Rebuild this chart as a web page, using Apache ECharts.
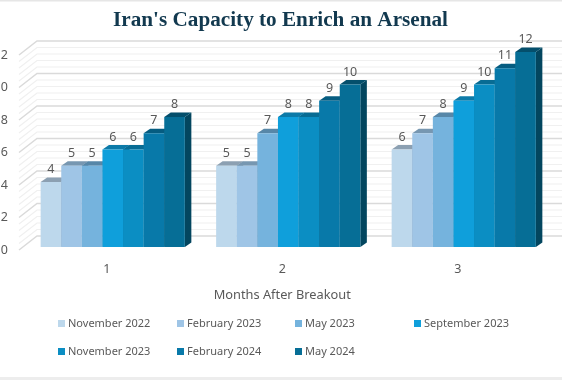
<!DOCTYPE html>
<html>
<head>
<meta charset="utf-8">
<style>
  html, body { margin: 0; padding: 0; background: #fff; }
  #chart { width: 562px; height: 380px; }
</style>
<script src="https://cdn.jsdelivr.net/npm/echarts@6/dist/echarts.min.js"></script>
</head>
<body>
<div id="chart"></div>
<script>
const months = ['1', '2', '3'];
const seriesNames = ['November 2022', 'February 2023', 'May 2023', 'September 2023', 'November 2023', 'February 2024', 'May 2024'];
const nov2022 = [4, 5, 6];
const feb2023 = [5, 5, 7];
const may2023 = [5, 7, 8];
const sep2023 = [6, 8, 9];
const nov2023 = [6, 8, 10];
const feb2024 = [7, 9, 11];
const may2024 = [8, 10, 12];
const seriesValues = [nov2022, feb2023, may2023, sep2023, nov2023, feb2024, may2024];

const frontColors = ['#BDD8EC', '#9FC5E6', '#75B3DD', '#0F9FDB', '#0B8EC3', '#0879A9', '#066E96'];
const topColors = ['#8CA0B2', '#7797B1', '#5787A8', '#0C7AA8', '#086C94', '#055C80', '#044F6C'];
const sideColors = ['#7C95A8', '#6A8AA5', '#4C7C9C', '#096E98', '#066286', '#045172', '#03465F'];

const chart = echarts.init(document.getElementById('chart'));

// 3D look: depth of the back wall and of each bar, in pixels
const wallDx = 18, wallDy = -14;
const barDx = 6.5, barDy = -4.5;
const baseDx = 6, baseDy = -3;
const barWidth = 20.6;

const wallLevels = [];
for (let i = 0; i <= 30; i++) wallLevels.push(i * 0.4);

function renderWall(params, api) {
  const level = api.value(1);
  const p = api.coord([0, level]);
  const x0 = params.coordSys.x;
  const x1 = params.coordSys.x + params.coordSys.width + wallDx + 4;
  const major = Math.abs(level / 2 - Math.round(level / 2)) < 0.01;
  return {
    type: 'polyline',
    silent: true,
    shape: { points: [[x0, p[1]], [x0 + wallDx, p[1] + wallDy], [x1, p[1] + wallDy]] },
    style: { fill: 'none', stroke: major ? '#DADADA' : '#F0F0F0', lineWidth: major ? 1.5 : 1.2 }
  };
}

function renderBar(seriesIndex) {
  return function (params, api) {
    const center = api.coord([api.value(0), 0]);
    const top = api.coord([api.value(0), api.value(1)]);
    const x = center[0] + baseDx + (seriesIndex - 3.5) * barWidth;
    const y0 = center[1] + baseDy;
    const y1 = top[1] + baseDy;
    const w = barWidth;
    return {
      type: 'group',
      children: [
        {
          type: 'polygon',
          shape: { points: [[x + w, y0], [x + w + barDx, y0 + barDy], [x + w + barDx, y1 + barDy], [x + w, y1]] },
          style: { fill: sideColors[seriesIndex] }
        },
        {
          type: 'polygon',
          shape: { points: [[x, y1], [x + barDx, y1 + barDy], [x + w + barDx, y1 + barDy], [x + w, y1]] },
          style: { fill: topColors[seriesIndex] }
        },
        {
          type: 'rect',
          shape: { x: x, y: y1, width: w, height: y0 - y1 },
          style: { fill: frontColors[seriesIndex] }
        },
        {
          type: 'text',
          style: {
            x: x + w / 2,
            y: y1 - 12.5,
            text: String(api.value(1)),
            align: 'center',
            verticalAlign: 'middle',
            fill: '#595959',
            font: '12.5px "Noto Sans"'
          }
        }
      ]
    };
  };
}

const legendLeft = [58, 177, 295, 414, 58, 177, 295];
const legendTop = [318, 318, 318, 318, 346, 346, 346];

const option = {
  animation: false,
  backgroundColor: '#fff',
  color: frontColors,
  // grey page edges of the screenshot
  graphic: [
    { type: 'rect', left: 0, top: 0, shape: { width: 562, height: 1.5 }, style: { fill: '#E6E6E6' }, silent: true },
    { type: 'rect', left: 0, top: 377, shape: { width: 562, height: 3 }, style: { fill: '#EDEDED' }, silent: true }
  ],
  title: {
    text: "Iran's Capacity to Enrich an Arsenal",
    left: 280.5,
    textAlign: 'center',
    top: 10,
    padding: 0,
    textStyle: { fontFamily: 'Liberation Serif', fontWeight: 'bold', fontSize: 21.2, color: '#12394F' }
  },
  legend: seriesNames.map((name, i) => ({
    data: [name],
    left: legendLeft[i],
    top: legendTop[i],
    padding: 0,
    icon: 'rect',
    itemWidth: 7,
    itemHeight: 7,
    itemGap: 3,
    textStyle: { fontFamily: 'Noto Sans', fontSize: 11, color: '#595959', padding: [0, 0, 0, -2] }
  })),
  grid: { left: 19, right: 16.5, top: 55, bottom: 130, outerBoundsMode: 'none' },
  xAxis: {
    type: 'category',
    data: months,
    axisLine: { show: false },
    axisTick: { show: false },
    axisLabel: { margin: 13, fontFamily: 'Noto Sans', fontSize: 12.5, color: '#595959' },
    name: 'Months After Breakout',
    nameLocation: 'middle',
    nameGap: 39,
    nameTextStyle: { fontFamily: 'Noto Sans', fontSize: 12.8, color: '#595959' }
  },
  yAxis: {
    type: 'value',
    min: 0,
    max: 12,
    interval: 2,
    axisLine: { show: false },
    axisTick: { show: false },
    splitLine: { show: false },
    axisLabel: { margin: 11, padding: [4, 0, 0, 0], fontFamily: 'Noto Sans', fontSize: 12.5, color: '#595959' }
  },
  series: [
    {
      type: 'custom',
      name: 'wall',
      silent: true,
      z: 1,
      clip: false,
      renderItem: renderWall,
      data: wallLevels.map(v => [0, v])
    }
  ].concat(seriesNames.map((name, i) => ({
    type: 'custom',
    name: name,
    z: 2 + i,
    clip: false,
    itemStyle: { color: frontColors[i] },
    renderItem: renderBar(i),
    encode: { x: 0, y: 1 },
    data: seriesValues[i].map((v, c) => [c, v])
  })))
};

chart.setOption(option);
</script>
</body>
</html>
